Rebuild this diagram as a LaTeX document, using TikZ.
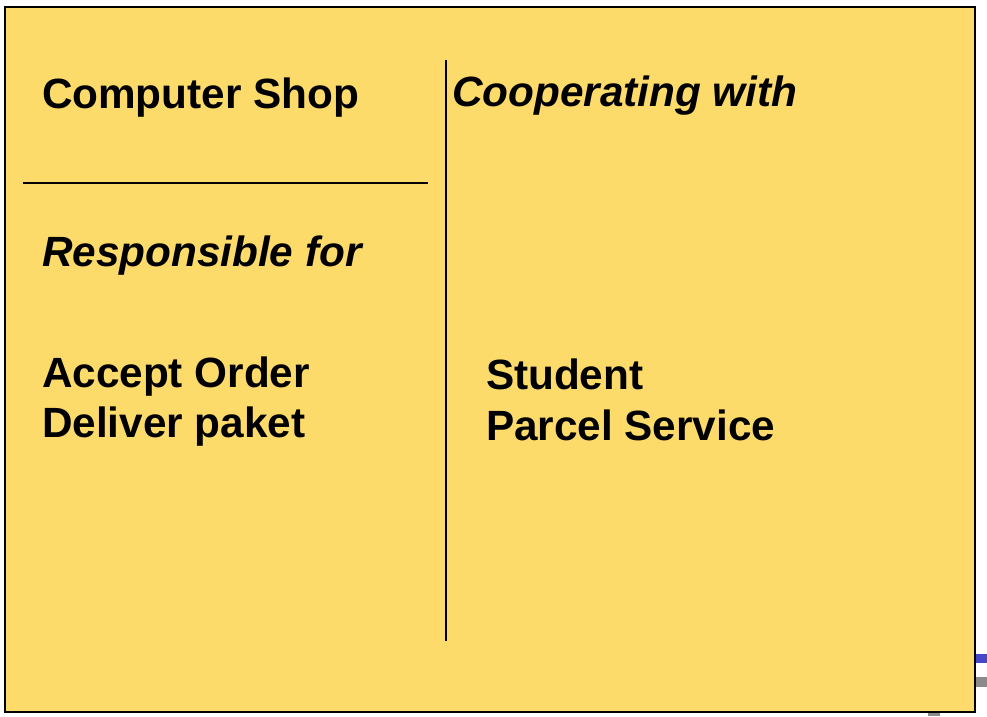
\documentclass[tikz,border=0pt]{standalone}
\usepackage{fontspec}
\setmainfont{Liberation Sans}
\usetikzlibrary{positioning}
\definecolor{cardyellow}{HTML}{FDDB6B}
\definecolor{slideblue}{HTML}{4646C8}
\definecolor{slidegray}{HTML}{8A8A8A}

\begin{document}
\begin{tikzpicture}[x=1pt,y=-1pt,line width=2pt,
  cardtext/.style={anchor=base west,inner sep=0pt,font=\fontsize{42.3}{50}\selectfont\bfseries},
  cardslant/.style={cardtext,font=\fontsize{42.3}{50}\selectfont\bfseries\itshape}];

\useasboundingbox (0,0) rectangle (987,716);
\fill[slideblue] (970,654) rectangle (987,663);
\fill[slidegray] (970,677) rectangle (987,687);
\fill[slidegray] (928,710) rectangle (940,716);
\draw[fill=cardyellow] (5,7) rectangle (975,712);
\draw (23,183) -- (428,183);
\draw (446,60) -- (446,641);
\node[cardtext] (shop) at (41,108) {Computer Shop};
\node[cardslant] (coop) at (451,106) {Cooperating with};
\node[cardslant] (resp) at (41,266) {Responsible for};
\node[cardtext] (accept) at (41,387) {Accept Order};
\node[cardtext] (deliver) at (41,437) {Deliver paket};
\node[cardtext] (student) at (485,389) {Student};
\node[cardtext] (parcel) at (485,440) {Parcel Service};
\end{tikzpicture}
\end{document}
